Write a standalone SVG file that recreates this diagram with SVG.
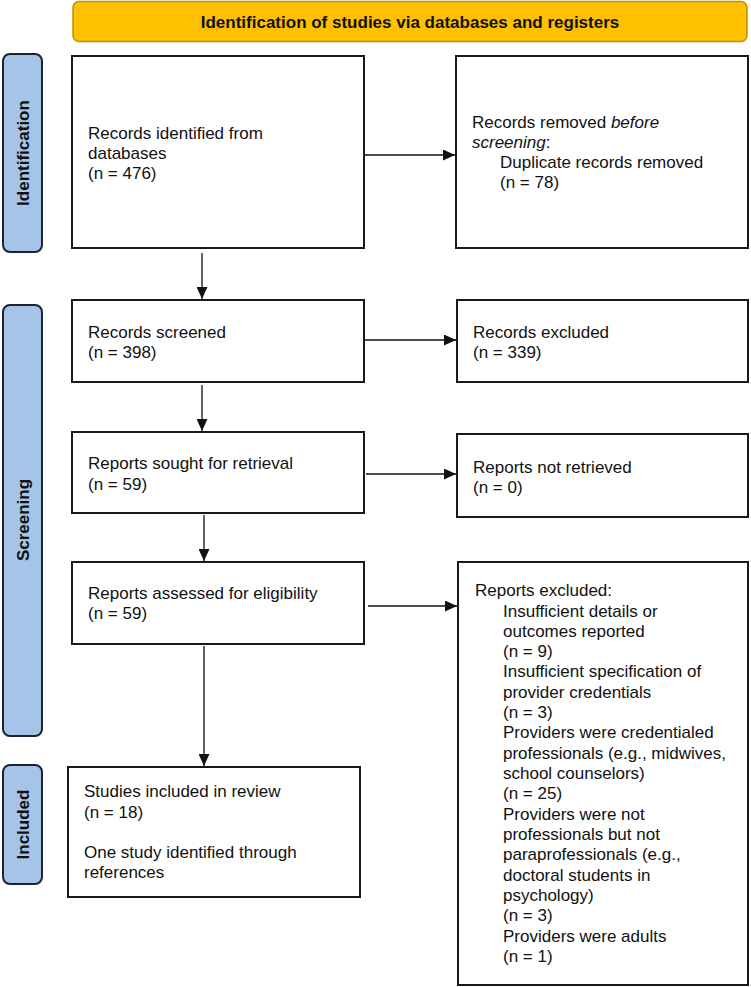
<svg xmlns="http://www.w3.org/2000/svg" width="751" height="987" viewBox="0 0 751 987">
<style>
.box{fill:#fff;stroke:#1a1a1a;stroke-width:2}
.side{fill:#A5C4E8;stroke:#1c2330;stroke-width:2}
.t{font-family:"Liberation Sans",Arial,sans-serif;font-size:17px;fill:#111}
.st{font-family:"Liberation Sans",Arial,sans-serif;font-size:17px;font-weight:bold;fill:#111;text-anchor:middle}
.c{stroke:#111;stroke-width:1.3;fill:none}
</style>
<defs>
<marker id="ah" markerUnits="userSpaceOnUse" markerWidth="13" markerHeight="11" refX="12" refY="5.5" orient="auto">
<path d="M0,0 L12,5.5 L0,11 Z" fill="#111"/>
</marker>
</defs>
<g id="banner">
<rect x="73" y="1.5" width="674" height="40" rx="6" fill="#FFC000" stroke="#BF9000" stroke-width="1.5"/>
<text class="st" x="410" y="28">Identification of studies via databases and registers</text>
</g>
<g id="side-identification">
<rect class="side" x="3" y="54" width="39" height="198" rx="7"/>
<text class="st" transform="translate(29,153) rotate(-90)">Identification</text>
</g>
<g id="side-screening">
<rect class="side" x="3" y="305" width="39" height="431" rx="7"/>
<text class="st" transform="translate(29,520) rotate(-90)">Screening</text>
</g>
<g id="side-included">
<rect class="side" x="3" y="765" width="39" height="119" rx="7"/>
<text class="st" transform="translate(29,824.5) rotate(-90)">Included</text>
</g>
<g id="n-identified">
<rect class="box" x="72" y="56" width="292" height="192"/>
<text class="t" x="88" y="139">Records identified from</text>
<text class="t" x="88" y="159">databases</text>
<text class="t" x="88" y="179">(n = 476)</text>
</g>
<g id="n-removed">
<rect class="box" x="456" y="56" width="292" height="192"/>
<text class="t" x="472" y="128">Records removed <tspan font-style="italic">before</tspan></text>
<text class="t" x="472" y="148"><tspan font-style="italic">screening</tspan>:</text>
<text class="t" x="500" y="168">Duplicate records removed</text>
<text class="t" x="500" y="188">(n = 78)</text>
</g>
<g id="n-screened">
<rect class="box" x="72" y="300" width="292" height="82"/>
<text class="t" x="88" y="338">Records screened</text>
<text class="t" x="88" y="358">(n = 398)</text>
</g>
<g id="n-excluded">
<rect class="box" x="457" y="300" width="291" height="82"/>
<text class="t" x="473" y="338">Records excluded</text>
<text class="t" x="473" y="358">(n = 339)</text>
</g>
<g id="n-sought">
<rect class="box" x="72" y="432" width="292" height="81"/>
<text class="t" x="88" y="469">Reports sought for retrieval</text>
<text class="t" x="88" y="490">(n = 59)</text>
</g>
<g id="n-notretrieved">
<rect class="box" x="457" y="434" width="291" height="83"/>
<text class="t" x="473" y="473">Reports not retrieved</text>
<text class="t" x="473" y="493">(n = 0)</text>
</g>
<g id="n-assessed">
<rect class="box" x="72" y="562" width="292" height="82"/>
<text class="t" x="88" y="599">Reports assessed for eligibility</text>
<text class="t" x="88" y="619">(n = 59)</text>
</g>
<g id="n-reportsexcluded">
<rect class="box" x="458" y="562" width="290" height="423"/>
<text class="t" x="475" y="596">Reports excluded:</text>
<text class="t" x="503" y="617">Insufficient details or</text>
<text class="t" x="503" y="637">outcomes reported</text>
<text class="t" x="503" y="657">(n = 9)</text>
<text class="t" x="503" y="677">Insufficient specification of</text>
<text class="t" x="503" y="698">provider credentials</text>
<text class="t" x="503" y="718">(n = 3)</text>
<text class="t" x="503" y="738">Providers were credentialed</text>
<text class="t" x="503" y="759">professionals (e.g., midwives,</text>
<text class="t" x="503" y="779">school counselors)</text>
<text class="t" x="503" y="799">(n = 25)</text>
<text class="t" x="503" y="820">Providers were not</text>
<text class="t" x="503" y="840">professionals but not</text>
<text class="t" x="503" y="860">paraprofessionals (e.g.,</text>
<text class="t" x="503" y="881">doctoral students in</text>
<text class="t" x="503" y="901">psychology)</text>
<text class="t" x="503" y="921">(n = 3)</text>
<text class="t" x="503" y="942">Providers were adults</text>
<text class="t" x="503" y="962">(n = 1)</text>
</g>
<g id="n-included">
<rect class="box" x="68" y="767" width="292" height="130"/>
<text class="t" x="84" y="797">Studies included in review</text>
<text class="t" x="84" y="818">(n = 18)</text>
<text class="t" x="84" y="858">One study identified through</text>
<text class="t" x="84" y="878">references</text>
</g>
<g id="connectors">
<line class="c" x1="365" y1="155" x2="455" y2="155" marker-end="url(#ah)"/>
<line class="c" x1="365" y1="340" x2="456" y2="340" marker-end="url(#ah)"/>
<line class="c" x1="366" y1="474" x2="456" y2="474" marker-end="url(#ah)"/>
<line class="c" x1="368" y1="606" x2="457" y2="606" marker-end="url(#ah)"/>
<line class="c" x1="202" y1="253" x2="202" y2="299" marker-end="url(#ah)"/>
<line class="c" x1="202" y1="385" x2="202" y2="431" marker-end="url(#ah)"/>
<line class="c" x1="204" y1="515" x2="204" y2="561" marker-end="url(#ah)"/>
<line class="c" x1="204" y1="646" x2="204" y2="766" marker-end="url(#ah)"/>
</g>
</svg>
